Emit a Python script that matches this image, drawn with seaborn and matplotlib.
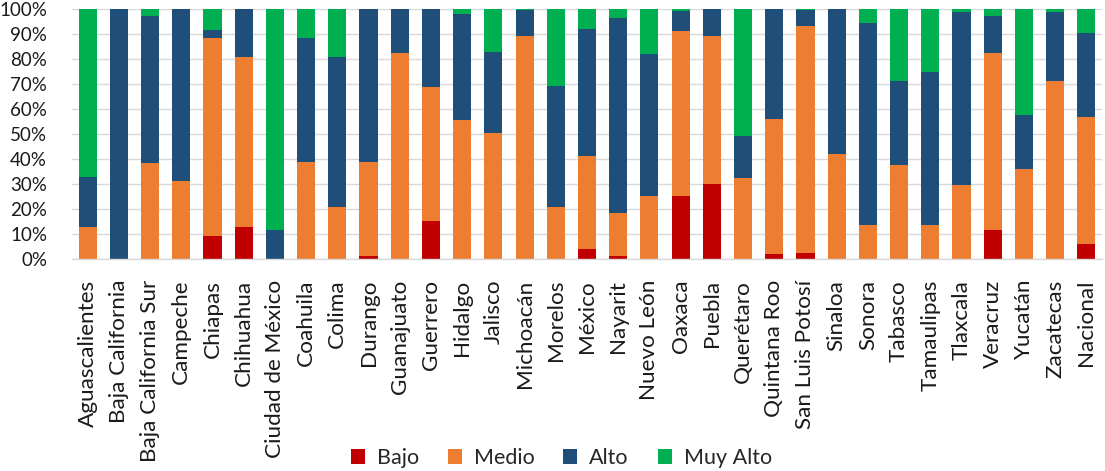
import matplotlib
matplotlib.use("Agg")
import matplotlib.pyplot as plt
from matplotlib.patches import Patch
import seaborn as sns
import pandas as pd
import numpy as np

categories = ["Aguascalientes", "Baja California", "Baja California Sur", "Campeche",
              "Chiapas", "Chihuahua", "Ciudad de México", "Coahuila", "Colima",
              "Durango", "Guanajuato", "Guerrero", "Hidalgo", "Jalisco", "Michoacán",
              "Morelos", "México", "Nayarit", "Nuevo León", "Oaxaca", "Puebla",
              "Querétaro", "Quintana Roo", "San Luis Potosí", "Sinaloa", "Sonora",
              "Tabasco", "Tamaulipas", "Tlaxcala", "Veracruz", "Yucatán", "Zacatecas",
              "Nacional"]

bajo = [0, 0, 0, 0, 9.3, 12.9, 0, 0, 0, 1.3, 0, 15.3, 0, 0, 0, 0, 4.1, 1.3, 0,
        25.3, 30.1, 0, 2.0, 2.4, 0, 0, 0, 0, 0, 11.6, 0.2, 0, 6.0]
medio = [13.0, 0, 38.3, 31.3, 79.2, 67.8, 0, 38.9, 20.9, 37.7, 82.3, 53.6, 55.6,
         50.4, 89.2, 20.8, 37.2, 17.1, 25.3, 65.8, 59.0, 32.4, 54.0, 90.9, 41.9,
         13.5, 37.5, 13.6, 29.6, 70.8, 35.7, 71.3, 50.9]
alto = [20.0, 100.0, 59.0, 68.7, 3.2, 19.3, 11.7, 49.5, 59.9, 61.0, 17.7, 31.1, 42.4,
        32.3, 10.5, 48.5, 50.7, 78.1, 56.6, 8.2, 10.9, 16.7, 44.0, 6.2, 58.1, 80.8,
        33.8, 61.1, 69.1, 14.7, 21.6, 27.4, 33.5]
muy_alto = [67.0, 0, 2.7, 0, 8.3, 0, 88.3, 11.6, 19.2, 0, 0, 0, 2.0, 17.3, 0.3,
            30.7, 8.0, 3.5, 18.1, 0.7, 0, 50.9, 0, 0.5, 0, 5.7, 28.7, 25.3, 1.3,
            2.9, 42.5, 1.3, 9.6]

series_names = ["Bajo", "Medio", "Alto", "Muy Alto"]
colors = ["#C00000", "#ED7D31", "#1F4E79", "#00B050"]

df = pd.DataFrame({"cat": categories, "Bajo": bajo, "Medio": medio,
                   "Alto": alto, "Muy Alto": muy_alto})
vals = df[series_names].to_numpy(dtype=float)
tot = vals.sum(axis=1, keepdims=True)
pct = vals / tot * 100
cum = np.cumsum(pct, axis=1)

sns.set_theme(style="white")
plt.rcParams["font.family"] = ["Lato", "DejaVu Sans"]

fig = plt.figure(figsize=(11.05, 4.71), dpi=100)
ax = fig.add_axes([72 / 1105, (471 - 259) / 471, (1102 - 72) / 1105, 250 / 471])

for i in range(3, -1, -1):
    d = pd.DataFrame({"cat": categories, "v": cum[:, i]})
    sns.barplot(data=d, x="cat", y="v", color=colors[i], width=0.58,
                saturation=1, ax=ax, order=categories, errorbar=None,
                edgecolor="none", linewidth=0)

ax.set_ylim(0, 100)
ax.set_xlim(-0.5, len(categories) - 0.5)
ax.set_yticks(np.arange(0, 101, 10))
ax.set_yticklabels([f"{t}%" for t in range(0, 101, 10)], fontsize=13.5, color="#1a1a1a")
ax.set_xticks(range(len(categories)))
ax.set_xticklabels(categories, rotation=90, fontsize=16.2, color="#1a1a1a")
ax.tick_params(axis="y", length=0, pad=18)
ax.tick_params(axis="x", length=0, pad=15)
ax.set_xlabel("")
ax.set_ylabel("")
ax.yaxis.grid(True, color="#D9D9D9", linewidth=1)
ax.set_axisbelow(True)
for s in ["top", "right", "left"]:
    ax.spines[s].set_visible(False)
ax.spines["bottom"].set_color("#D9D9D9")
ax.spines["bottom"].set_linewidth(1)

handles = [Patch(facecolor=c, edgecolor="none", label=n) for n, c in zip(series_names, colors)]
fig.legend(handles=handles, loc="center", bbox_to_anchor=(0.508, 1 - 458 / 471),
           ncol=4, frameon=False, fontsize=15.5, handlelength=0.65, handleheight=0.65,
           handletextpad=0.55, columnspacing=1.35)

fig.savefig("out.png", dpi=100)
